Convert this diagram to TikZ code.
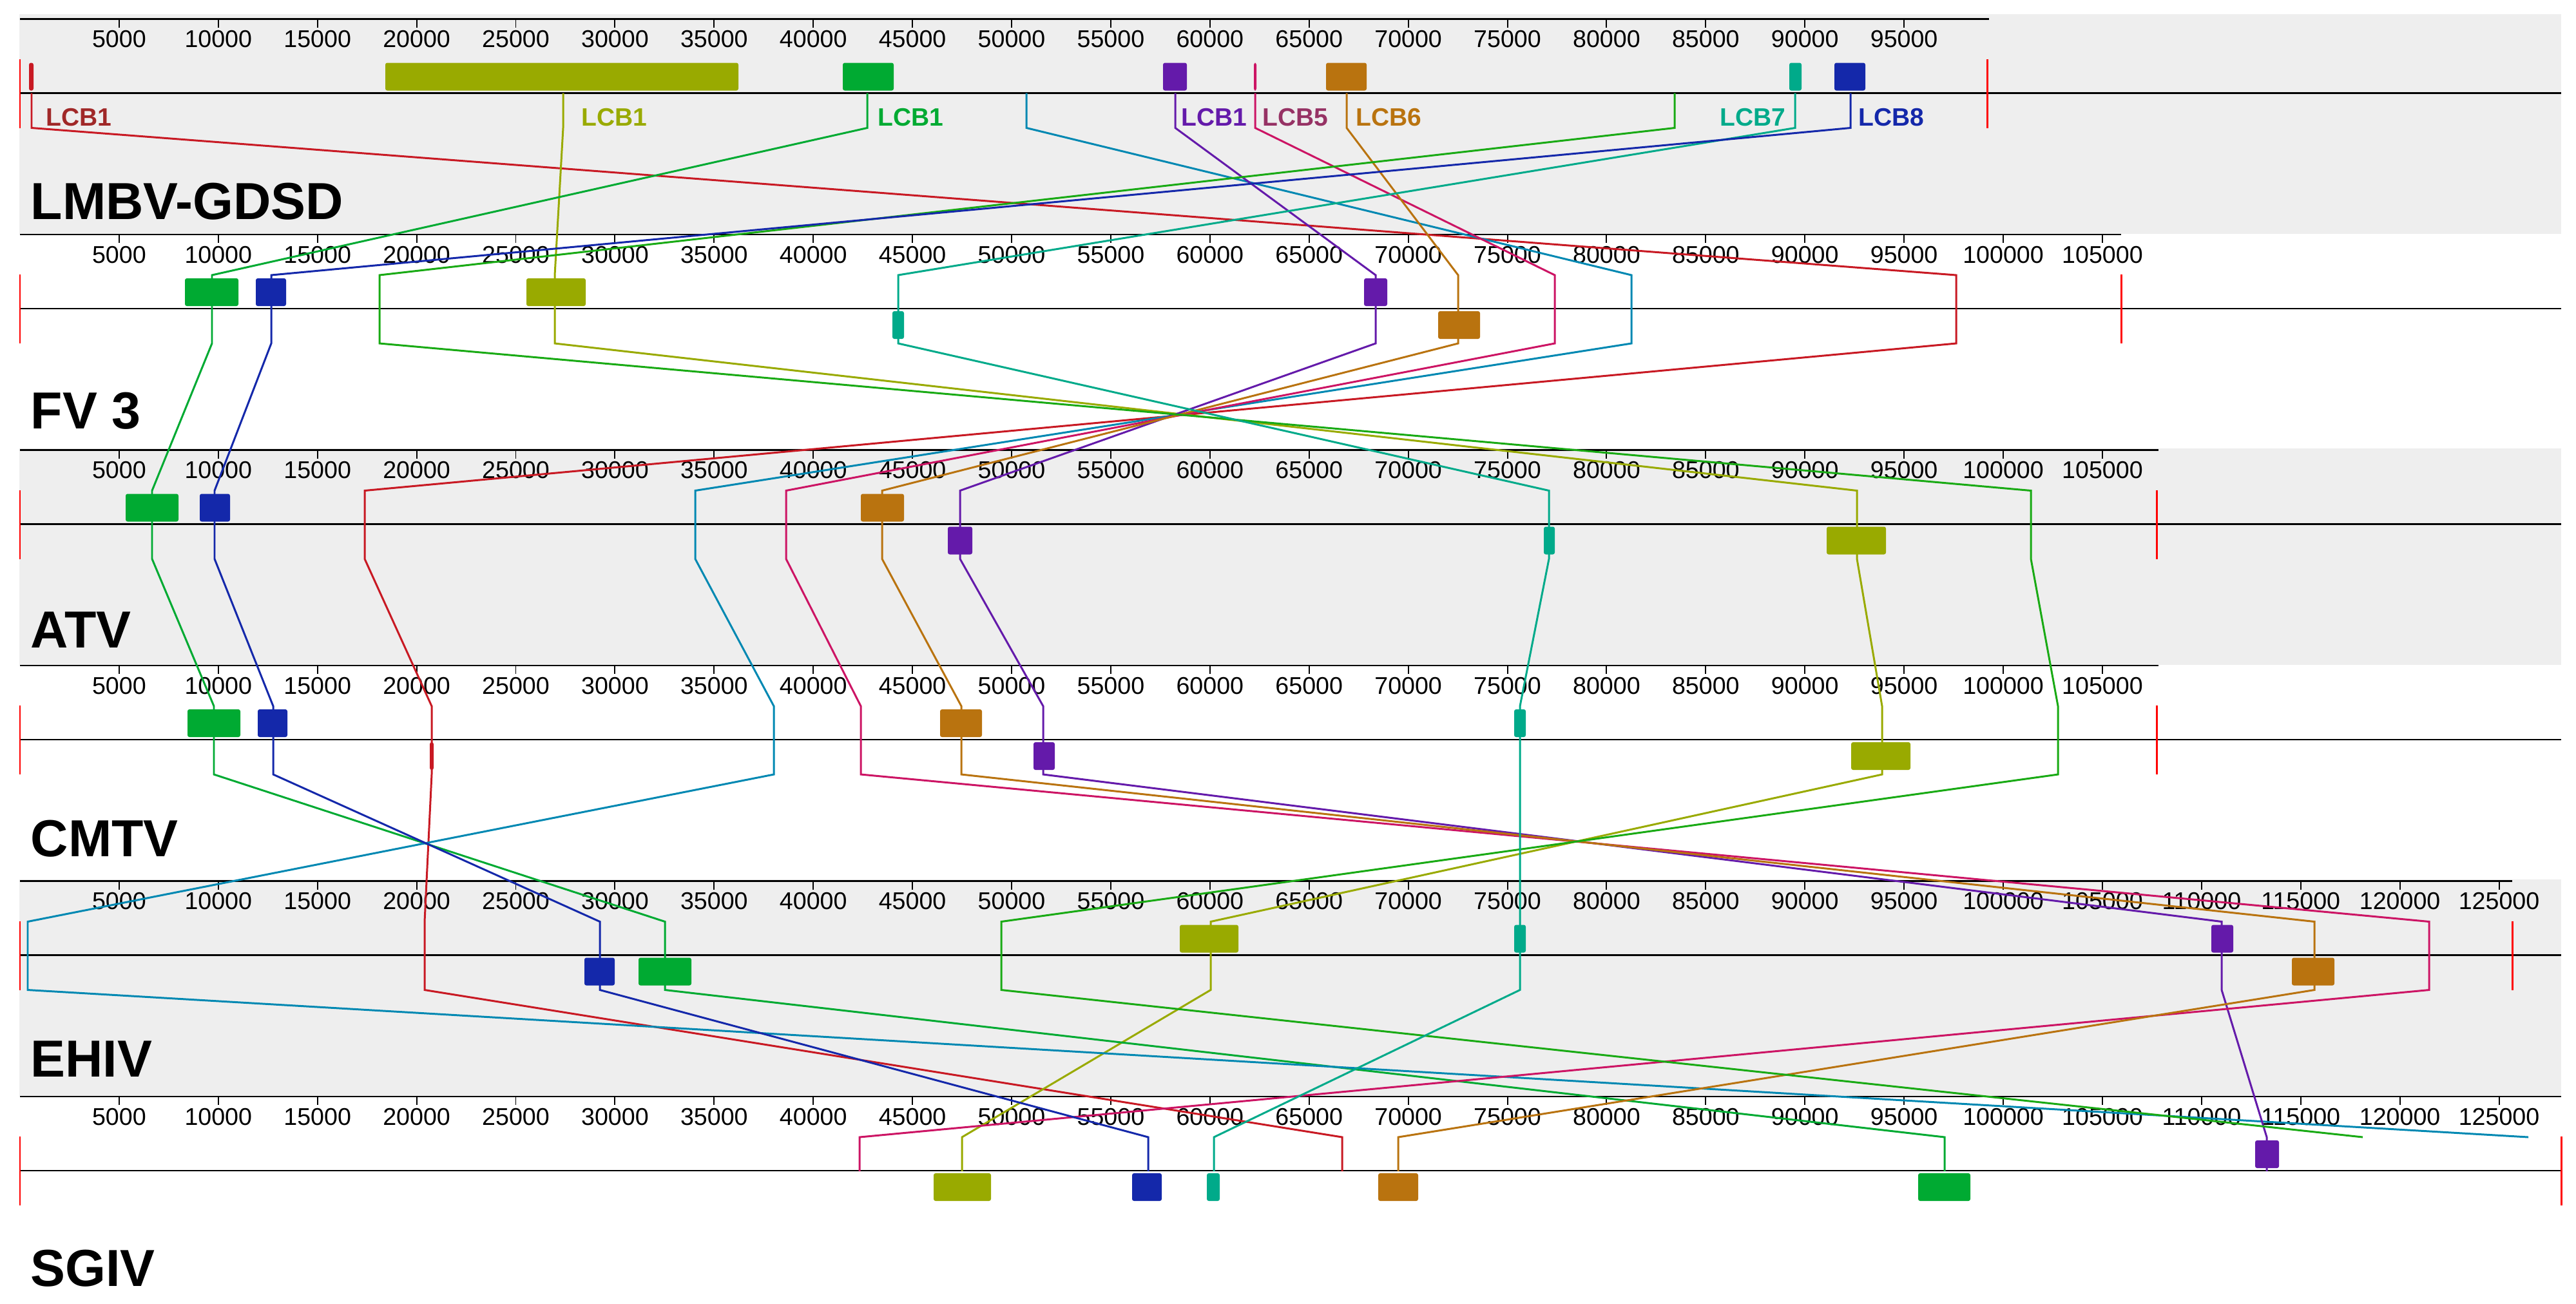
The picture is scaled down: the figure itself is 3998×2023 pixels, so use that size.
\documentclass[tikz,border=0pt]{standalone}
\usepackage{fontspec}
\setmainfont{Liberation Sans}
\usepackage{tikz}
\usetikzlibrary{calc}
\definecolor{lcbred}{RGB}{200,25,35}
\definecolor{lcbolive}{RGB}{153,170,0}
\definecolor{lcbgreen}{RGB}{0,170,50}
\definecolor{lcbtblue}{RGB}{0,136,178}
\definecolor{lcbpurple}{RGB}{100,26,170}
\definecolor{lcbmag}{RGB}{204,20,100}
\definecolor{lcborange}{RGB}{185,115,15}
\definecolor{lcblime}{RGB}{25,170,20}
\definecolor{lcbteal}{RGB}{0,170,138}
\definecolor{lcbblue}{RGB}{20,40,170}
\definecolor{tagred}{RGB}{160,40,40}
\definecolor{tagmag}{RGB}{150,50,100}
\definecolor{panel}{RGB}{238,238,238}
\definecolor{barred}{RGB}{255,0,0}
\tikzstyle{conn}    = [line width=0.85pt, line join=miter]
\tikzstyle{ruler}   = [line width=0.6pt, black]
\tikzstyle{tickmk}  = [line width=0.55pt, black]
\tikzstyle{endbar}  = [line width=0.85pt, barred]
\tikzstyle{ticklab} = [font=\fontsize{10.7}{12}\selectfont, inner sep=0pt, anchor=base]
\tikzstyle{lcbtag}  = [font=\bfseries\fontsize{11.1}{13}\selectfont, inner sep=0pt, anchor=base west]
\tikzstyle{genome}  = [font=\bfseries\fontsize{23}{27}\selectfont, inner sep=0pt, anchor=base west]

\begin{document}
\begin{tikzpicture}[x=0.1mm, y=-0.1mm]
	\useasboundingbox (0,0) rectangle (3998,2023);

	\fill[panel] (30,22) rectangle (3975,363);
	\fill[panel] (30,696) rectangle (3975,1032);
	\fill[panel] (30,1365) rectangle (3975,1701);

	\foreach \r/\n/\e in {1/19/3087,2/21/3292,3/21/3350,4/21/3350,5/25/3899,6/25/3975} {
		\pgfmathsetmacro{\ay}{29.5+334.5*(\r-1)}
		\draw[ruler] (31,\ay) -- (\e,\ay);
		\draw[ruler] (31,\ay+115) -- (3975,\ay+115);
		\foreach \k in {1,...,\n} {
			\draw[tickmk] (31+153.9*\k,\ay) -- ++(0,13);
			\node[ticklab] (tick\r-\k) at (31+153.9*\k,\ay+44) {\the\numexpr 5000*\k\relax};
		}
	}

	\foreach \n/\xa/\xb/\xc/\xd/\xe/\xf/\zf in {
		red/49/3036/566/670/659/2083/116,
		olive/874/861/2882/2921/1879/1493/116,
		green/1346/329/236/332/1032/3018/116,
		tblue/1593/2532/1079/1201/43/3924/63,
		purple/1824/2135/1490/1619/3448/3518/116,
		mag/1948/2413/1220/1336/3770/1334/116,
		orange/2090/2263/1369/1492/3592/2170/116,
		lime/2599/589/3152/3194/1554/3667/63,
		teal/2786/1394/2404/2359/2359/1884/116,
		blue/2872/421/333/424/931/1782/116} {
		\foreach \r/\x in {1/\xa,2/\xb,3/\xc,4/\xd,5/\xe,6/\xf}
			\coordinate (\n\r) at (\x,{29.5+334.5*(\r-1)});
		\draw[conn, draw=lcb\n] ($(\n1)+(0,115)$) -- ($(\n1)+(0,169)$)
			-- ($(\n2)+(0,63)$) -- ($(\n2)+(0,169)$)
			-- ($(\n3)+(0,63)$) -- ($(\n3)+(0,169)$)
			-- ($(\n4)+(0,63)$) -- ($(\n4)+(0,169)$)
			-- ($(\n5)+(0,63)$) -- ($(\n5)+(0,169)$)
			-- ($(\n6)+(0,63)$) -- ($(\n6)+(0,\zf)$);
	}

	\foreach \n/\r/\l/\rr/\s in {
		red/1/45/52/68, olive/1/598/1146/68, green/1/1308/1387/68, purple/1/1805/1842/68,
		mag/1/1946/1950/68, orange/1/2058/2121/68, teal/1/2777/2796/68, blue/1/2847/2895/68,
		green/2/287/370/68, blue/2/397/444/68, olive/2/817/909/68, teal/2/1385/1403/119,
		purple/2/2117/2153/68, orange/2/2232/2297/119,
		green/3/195/277/68, blue/3/310/357/68, orange/3/1336/1403/68, purple/3/1471/1509/119,
		teal/3/2396/2413/119, olive/3/2835/2927/119,
		green/4/291/373/68, blue/4/400/446/68, red/4/667/673/119, orange/4/1459/1524/68,
		purple/4/1604/1637/119, teal/4/2350/2368/68, olive/4/2873/2965/119,
		blue/5/907/954/119, green/5/991/1073/119, olive/5/1831/1922/68, teal/5/2350/2368/68,
		purple/5/3432/3466/68, orange/5/3557/3623/119,
		olive/6/1449/1538/119, blue/6/1757/1803/119, teal/6/1873/1893/119,
		orange/6/2139/2201/119, green/6/2977/3058/119, purple/6/3500/3537/68} {
		\fill[lcb\n, rounded corners=0.3mm] (\l,{29.5+334.5*(\r-1)+\s}) rectangle (\rr,{29.5+334.5*(\r-1)+\s+43});
	}

	\foreach \r/\e in {1/3084,2/3292,3/3347,4/3347,5/3899,6/3975} {
		\draw[endbar] (31,{29.5+334.5*(\r-1)+62}) -- ++(0,107);
		\draw[endbar] (\e,{29.5+334.5*(\r-1)+62}) -- ++(0,107);
	}

	\node[lcbtag, text=tagred] (tag-red) at (71,195) {LCB1};
	\node[lcbtag, text=lcbolive] (tag-olive) at (902,195) {LCB1};
	\node[lcbtag, text=lcbgreen] (tag-green) at (1362,195) {LCB1};
	\node[lcbtag, text=lcbpurple] (tag-purple) at (1833,195) {LCB1};
	\node[lcbtag, text=tagmag] (tag-mag) at (1959,195) {LCB5};
	\node[lcbtag, text=lcborange] (tag-orange) at (2104,195) {LCB6};
	\node[lcbtag, text=lcbteal, anchor=base east] (tag-teal) at (2772,195) {LCB7};
	\node[lcbtag, text=lcbblue] (tag-blue) at (2884,195) {LCB8};

	\node[genome] (g-lmbv) at (47,340.5) {LMBV-GDSD};
	\node[genome] (g-fv3) at (47,665) {FV 3};
	\node[genome] (g-atv) at (47,1005.5) {ATV};
	\node[genome] (g-cmtv) at (47,1329) {CMTV};
	\node[genome] (g-ehiv) at (47,1671.5) {EHIV};
	\node[genome] (g-sgiv) at (47,1996) {SGIV};
\end{tikzpicture}
\end{document}
